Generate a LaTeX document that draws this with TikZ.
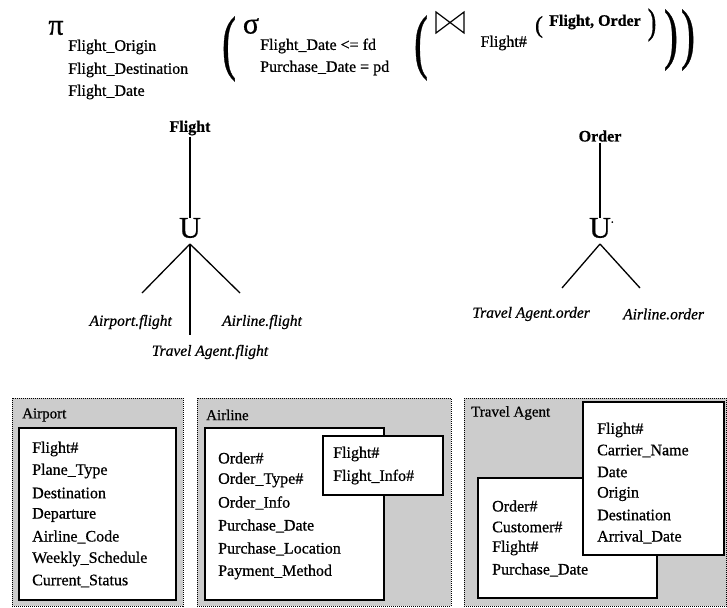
\documentclass[tikz,border=0pt]{standalone}
\usepackage{fontspec}
\setmainfont{Liberation Serif}[FakeBold=0.7]
\usepackage{graphicx}
\begin{document}
\begin{tikzpicture}[x=1pt,y=-1pt,
  sym/.style={inner sep=0pt,font=\fontsize{30}{30}\selectfont},
  subtxt/.style={inner sep=0pt,anchor=west,font=\fontsize{16}{16}\selectfont},
  bigparen/.style={inner sep=0pt,font=\fontsize{42}{42}\selectfont},
  hdr/.style={inner sep=1pt,font=\bfseries\fontsize{16}{16}\selectfont},
  leaf/.style={inner sep=0pt,font=\itshape\fontsize{15.5}{15.5}\selectfont},
  branch/.style={line width=1.3pt},
  outerbox/.style={draw,densely dotted,line width=1pt,fill=black!20},
  innerbox/.style={draw,line width=1.1pt,fill=white},
  field/.style={inner sep=0pt,anchor=west,font=\fontsize{16}{16}\selectfont},
  boxlabel/.style={inner sep=0pt,anchor=west,font=\fontsize{15}{15}\selectfont}]
\useasboundingbox (0,0) rectangle (727,607);

% ---------- relational algebra expression ----------
\node[sym] (pi) at (56,28) {π};
\node[subtxt] (p1) at (68,47) {Flight\_Origin};
\node[subtxt] (p2) at (68,70) {Flight\_Destination};
\node[subtxt] (p3) at (68,92) {Flight\_Date};
\node[bigparen] (lp1) at (229,49) {\scalebox{1}[1.7]{(}};
\node[sym] (sigma) at (251,26) {σ};
\node[subtxt] (s1) at (260,46) {Flight\_Date <= fd};
\node[subtxt] (s2) at (260,68) {Purchase\_Date = pd};
\node[bigparen] (lp2) at (421,48) {\scalebox{1}[1.7]{(}};
% join symbol
\draw[line width=1.2pt,line join=miter] (436,12) -- (450,22.5) -- (464,12) -- (464,33) -- (450,22.5) -- (436,33) -- cycle;
\node[subtxt,anchor=east] (jn) at (527,43) {Flight\#};
\node[inner sep=0pt,font=\fontsize{24}{24}\selectfont] (lp3) at (539,27) {(};
\node[inner sep=0pt,anchor=west,font=\bfseries\fontsize{16}{16}\selectfont] (args) at (549,22) {Flight, Order};
\node[inner sep=0pt,font=\fontsize{26}{26}\selectfont] (rp3) at (652,25) {\scalebox{1}[1.4]{)}};
\node[bigparen] (rp2) at (671,40) {\scalebox{1}[1.6]{)}};
\node[bigparen] (rp1) at (688,40) {\scalebox{1}[1.6]{)}};

% ---------- union tree for Flight ----------
\node[hdr] (fl) at (190,128) {Flight};
\node[sym] (u1) at (190,228) {U};
\coordinate (f-apex) at (190,244);
\coordinate (f-left) at (142,293);
\coordinate (f-right) at (240,293);
\coordinate (f-mid) at (190,335);
\draw[branch] (fl.south) -- (u1.north);
\draw[branch] (f-apex) -- (f-left);
\draw[branch] (f-apex) -- (f-right);
\draw[branch] (f-apex) -- (f-mid);
\node[leaf,anchor=east] (apf) at (172,322) {Airport.flight};
\node[leaf,anchor=west] (alf) at (222,322) {Airline.flight};
\node[leaf] (taf) at (210,352) {Travel Agent.flight};

% ---------- union tree for Order ----------
\node[hdr] (or) at (600,136) {Order};
\node[sym] (u2) at (600,228) {U\rlap{\raisebox{0.5em}{\fontsize{12}{12}\selectfont.}}};
\coordinate (o-apex) at (600,244);
\coordinate (o-left) at (562,288);
\coordinate (o-right) at (640,288);
\draw[branch] (or.south) -- (u2.north);
\draw[branch] (o-apex) -- (o-left);
\draw[branch] (o-apex) -- (o-right);
\node[leaf,anchor=east] (tao) at (590,314) {Travel Agent.order};
\node[leaf,anchor=west] (alo) at (623,314) {Airline.order};

% ---------- Airport source ----------
\draw[outerbox] (12,398) rectangle (183,606);
\node[boxlabel] (apl) at (22,415) {Airport};
\draw[innerbox] (19,428) rectangle (176,600);
\node[field] at (32,449) {Flight\#};
\node[field] at (32,471) {Plane\_Type};
\node[field] at (32,493) {Destination};
\node[field] at (32,515) {Departure};
\node[field] at (32,537) {Airline\_Code};
\node[field] at (32,559) {Weekly\_Schedule};
\node[field] at (32,581) {Current\_Status};

% ---------- Airline source ----------
\draw[outerbox] (197,398) rectangle (451,606);
\node[boxlabel] (all) at (206,415) {Airline};
\draw[innerbox] (205,428) rectangle (384,600);
\node[field] at (218,458) {Order\#};
\node[field] at (218,480) {Order\_Type\#};
\node[field] at (218,503) {Order\_Info};
\node[field] at (218,526) {Purchase\_Date};
\node[field] at (218,549) {Purchase\_Location};
\node[field] at (218,572) {Payment\_Method};
\draw[innerbox] (323,436) rectangle (443,495);
\node[field] at (333,454) {Flight\#};
\node[field] at (333,477) {Flight\_Info\#};

% ---------- Travel Agent source ----------
\draw[outerbox] (464,398) rectangle (726.5,606);
\node[boxlabel] (tal) at (471,413) {Travel Agent};
\draw[innerbox] (478,478) rectangle (657,598);
\node[field] at (492,506) {Order\#};
\node[field] at (492,527) {Customer\#};
\node[field] at (492,548) {Flight\#};
\node[field] at (492,570) {Purchase\_Date};
\draw[innerbox] (583,402) rectangle (724,555);
\node[field] at (597,430) {Flight\#};
\node[field] at (597,451) {Carrier\_Name};
\node[field] at (597,472) {Date};
\node[field] at (597,494) {Origin};
\node[field] at (597,515) {Destination};
\node[field] at (597,537) {Arrival\_Date};
\end{tikzpicture}
\end{document}
